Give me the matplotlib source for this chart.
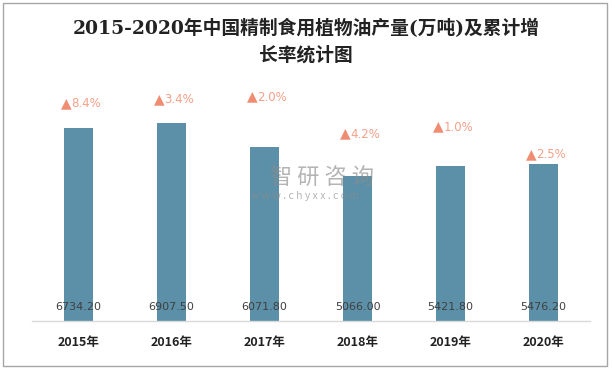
import numpy as np
import matplotlib.pyplot as plt
from matplotlib.patches import Rectangle

plt.rcParams['font.family'] = ['Noto Sans CJK SC', 'DejaVu Sans']

years = ['2015年', '2016年', '2017年', '2018年', '2019年', '2020年']
output = [6734.20, 6907.50, 6071.80, 5066.00, 5421.80, 5476.20]
growth = ['8.4%', '3.4%', '2.0%', '4.2%', '1.0%', '2.5%']
# height of the growth labels (hidden series in the original chart)
growth_pos = [7570, 7720, 7810, 6520, 6760, 5800]

bar_color = '#5B90A8'
label_color = '#F4A088'
tri_color = '#EF8C72'

fig = plt.figure(figsize=(6.12, 3.7), dpi=100)
ax = fig.add_axes([32 / 612, 1 - 321 / 370, 558 / 612, 258 / 370])

x = np.arange(len(years))
ax.bar(x, output, width=0.31, color=bar_color, zorder=2)

for xi, v in zip(x, output):
    ax.annotate(f'{v:.2f}', (xi, 0), xytext=(0, 10), textcoords='offset points',
                ha='center', va='center', fontsize=8, color='#404040',
                family=['DejaVu Sans'], zorder=3)

for xi, g, gy in zip(x, growth, growth_pos):
    ax.annotate('▲', (xi, gy), xytext=(-5, 0.5), textcoords='offset points',
                ha='right', va='center', fontsize=10, color=tri_color,
                family=['DejaVu Sans'], zorder=3)
    ax.annotate(g, (xi, gy), xytext=(-5, 0), textcoords='offset points',
                ha='left', va='center', fontsize=8.5, color=label_color,
                family=['DejaVu Sans'], zorder=3)

ax.set_xlim(-0.5, len(years) - 0.5)
ax.set_ylim(0, 9000)
ax.set_xticks(x)
ax.set_xticklabels(years, fontsize=9, fontweight='bold', color='#222222')
ax.tick_params(axis='x', length=0, pad=11)
ax.set_yticks([])
for s in ['top', 'right', 'left']:
    ax.spines[s].set_visible(False)
ax.spines['bottom'].set_color('#D9D9D9')
ax.spines['bottom'].set_linewidth(1)
ax.spines['bottom'].set_zorder(3)

# title
title_font = ['DejaVu Serif', 'Noto Sans CJK SC']
fig.text(0.5, 1 - 28 / 370, '2015-2020年中国精制食用植物油产量(万吨)及累计增',
         ha='center', va='center', fontsize=13.5, fontweight='bold',
         color='#222222', family=title_font)
fig.text(0.5, 1 - 55 / 370, '长率统计图', ha='center', va='center',
         fontsize=13.5, fontweight='bold', color='#222222', family=title_font)

# watermark
fig.text(322 / 612, 1 - 178 / 370, '智 研 咨 询', ha='center', va='center',
         fontsize=16, color='#8C8C8C', alpha=0.65, zorder=5)
fig.text(305 / 612, 1 - 196 / 370, 'w w w . c h y x x . c o m', ha='center',
         va='center', fontsize=7.5, color='#8C8C8C', alpha=0.65, zorder=5)

# outer border
fig.patches.append(Rectangle((3 / 612, 4 / 370), 604 / 612, 363 / 370,
                             transform=fig.transFigure, fill=False,
                             edgecolor='#A6A6A6', linewidth=1))

fig.savefig('out.png', dpi=100)
